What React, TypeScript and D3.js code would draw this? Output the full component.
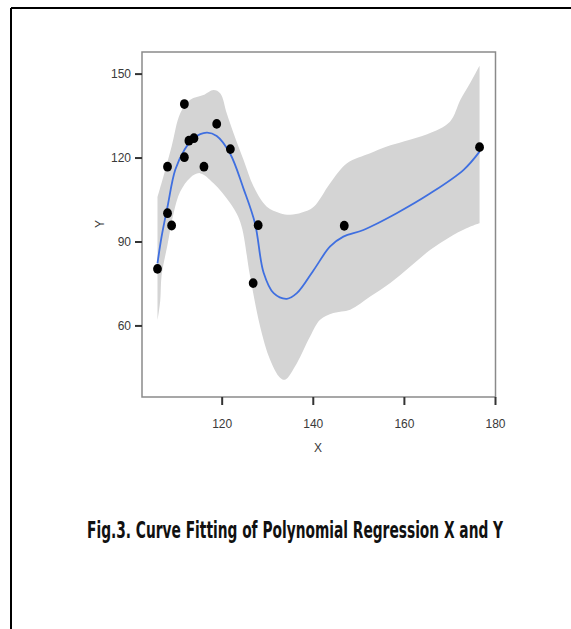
import React, { useLayoutEffect, useRef, useState } from "react";
import * as d3 from "d3";

// Observed points
const pointX = [105.8, 108.0, 108.0, 108.9, 111.7, 111.7, 112.7, 113.8, 116.0, 118.8, 121.8, 126.8, 127.9, 146.8, 176.5];
const pointY = [80.4, 116.9, 100.3, 95.9, 139.3, 120.3, 126.2, 127.1, 116.9, 132.2, 123.2, 75.3, 96.0, 95.8, 123.9];

// Fitted curve
const fitX = [105.8, 106.7, 108.0, 109.7, 111.7, 113.7, 116.6, 118.8, 121.7, 124.7, 127.2, 129.1, 131.3, 134.2, 136.4, 140.1, 143.7, 146.6, 151.0, 158.3, 165.7, 173.0, 176.5];
const fitY = [82.4, 91.9, 102.6, 115.8, 122.9, 127.1, 129.1, 127.9, 121.7, 109.0, 96.7, 79.0, 71.7, 69.7, 71.7, 80.0, 88.4, 91.9, 94.3, 100.3, 107.4, 115.8, 122.3];

// Confidence band
const upperX = [105.8, 107.1, 108.9, 110.8, 113.0, 115.9, 118.1, 119.6, 121.0, 122.5, 124.7, 126.9, 129.8, 132.7, 134.9, 137.5, 140.1, 143.7, 147.4, 152.5, 156.0, 160.0, 165.0, 170.0, 172.3, 174.5, 176.5];
const upperY = [106.0, 113.4, 124.1, 136.0, 140.8, 142.5, 144.3, 143.1, 136.0, 128.9, 119.3, 109.8, 102.6, 100.3, 99.7, 100.5, 102.6, 111.0, 118.1, 121.7, 124.0, 126.0, 128.5, 133.0, 140.8, 147.0, 153.0];
const lowerX = [105.8, 106.4, 106.7, 108.0, 109.3, 110.8, 113.0, 115.1, 118.1, 121.7, 124.0, 126.1, 128.3, 130.5, 132.7, 133.8, 136.4, 139.3, 141.5, 144.4, 148.1, 152.5, 156.9, 161.3, 165.7, 170.1, 174.5, 176.5];
const lowerY = [62.0, 69.0, 78.0, 89.0, 100.0, 108.0, 113.0, 114.6, 111.0, 104.0, 97.0, 78.0, 60.0, 48.0, 41.5, 40.8, 46.7, 56.2, 62.2, 64.6, 65.8, 70.5, 75.3, 81.2, 87.2, 91.9, 95.5, 96.7];

const xTicks = [120, 140, 160, 180];
const yTicks = [60, 90, 120, 150];
const xTitle = "X";
const yTitle = "Y";
const caption = "Fig.3. Curve Fitting of Polynomial Regression X and Y";

export default function App() {
  const W = 571, H = 629;
  const left = 142, right = 495.5, top = 52, bottom = 397;
  const x = d3.scaleLinear().domain([102.4, 180]).range([left, right]);
  const y = d3.scaleLinear().domain([34.6, 157.9]).range([bottom, top]);

  const capRef = useRef<SVGTextElement>(null);
  const [sx, setSx] = useState(1);
  useLayoutEffect(() => {
    if (capRef.current) {
      const len = capRef.current.getComputedTextLength();
      if (len > 0) setSx(416 / len);
    }
  }, []);

  const upperPts = upperX.map((v, i) => [x(v), y(upperY[i])] as [number, number]);
  const lowerPts = lowerX.map((v, i) => [x(v), y(lowerY[i])] as [number, number]);
  const lineGen = d3.line().curve(d3.curveCatmullRom.alpha(0.5));
  const bandPath =
    lineGen(upperPts) + "L" + lineGen(lowerPts.slice().reverse())!.slice(1) + "Z";
  const fitPath = lineGen(fitX.map((v, i) => [x(v), y(fitY[i])] as [number, number]));

  const tickFont = "'Liberation Sans', Arial, sans-serif";

  return (
    <svg width={W} height={H} style={{ position: "absolute", left: 0, top: 0 }}>
      <rect x={0} y={0} width={W} height={H} fill="#fff" />
      {/* outer frame */}
      <line x1={11} y1={8} x2={W} y2={8} stroke="#000" strokeWidth={2} />
      <line x1={11} y1={8} x2={11} y2={H} stroke="#000" strokeWidth={2} />

      {/* band */}
      <path d={bandPath} fill="#d4d4d4" stroke="none" />
      {/* fit line */}
      <path d={fitPath!} fill="none" stroke="#3f6fe0" strokeWidth={1.8} />
      {/* points */}
      {pointX.map((v, i) => (
        <ellipse key={i} cx={x(v)} cy={y(pointY[i])} rx={4.4} ry={4.9} fill="#000" />
      ))}

      {/* panel border */}
      <rect x={left} y={top} width={right - left} height={bottom - top} fill="none" stroke="#8a8a8a" strokeWidth={1.5} />

      {/* y axis ticks */}
      {yTicks.map((t) => (
        <g key={"y" + t}>
          <line x1={135} x2={left} y1={y(t)} y2={y(t)} stroke="#333" strokeWidth={2} />
          <text x={131} y={y(t)} dy="0.36em" textAnchor="end" fontFamily={tickFont} fontSize={12} fill="#3a3a3a">
            {t}
          </text>
        </g>
      ))}
      {/* x axis ticks */}
      {xTicks.map((t) => (
        <g key={"x" + t}>
          <line x1={x(t)} x2={x(t)} y1={bottom} y2={bottom + 8} stroke="#333" strokeWidth={2} />
          <text x={x(t)} y={428} textAnchor="middle" fontFamily={tickFont} fontSize={12} fill="#3a3a3a">
            {t}
          </text>
        </g>
      ))}
      <text x={318} y={452} textAnchor="middle" fontFamily={tickFont} fontSize={12} fill="#3a3a3a">
        {xTitle}
      </text>
      <text transform="translate(104,224) rotate(-90)" textAnchor="middle" fontFamily={tickFont} fontSize={12} fill="#3a3a3a">
        {yTitle}
      </text>

      <g transform={`translate(87,538) scale(${sx},1.3)`}>
        <text
          ref={capRef}
          x={0}
          y={0}
          fontFamily="'Liberation Sans Narrow', 'DejaVu Sans Condensed', sans-serif"
          fontWeight="bold"
          fontSize={18}
          fill="#111"
        >
          {caption}
        </text>
      </g>
    </svg>
  );
}
